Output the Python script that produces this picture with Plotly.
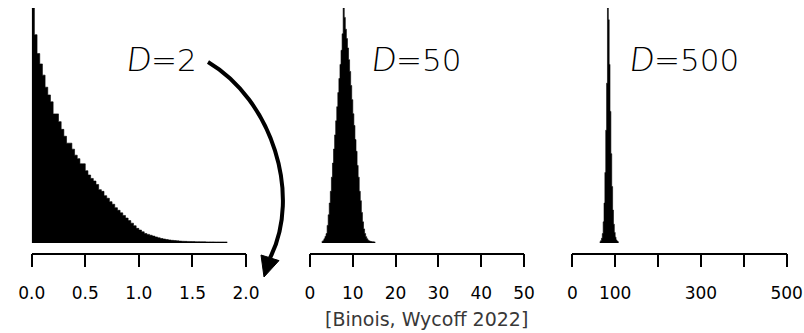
import plotly.graph_objects as go

W, H = 804, 333

# ---------------- data ----------------
# D = 2 : histogram, bin width 0.025 starting at 0
d2_start, d2_width = 0.0, 0.025
d2_vals = [2.73, 2.42, 2.20, 2.08, 1.95, 1.81, 1.72, 1.64, 1.50, 1.50, 1.41, 1.32, 1.24, 1.16, 1.16, 1.09,
           1.02, 0.98, 0.92, 0.92, 0.84, 0.79, 0.75, 0.72, 0.68, 0.62, 0.60, 0.55, 0.52, 0.48, 0.45, 0.41,
           0.38, 0.35, 0.32, 0.29, 0.26, 0.23, 0.20, 0.17, 0.15, 0.13, 0.11, 0.10, 0.090, 0.080, 0.070,
           0.060, 0.052, 0.046, 0.040, 0.035, 0.031, 0.028, 0.025, 0.022, 0.020, 0.019, 0.018, 0.017,
           0.016, 0.015, 0.015, 0.014, 0.014, 0.013, 0.013, 0.013, 0.012, 0.012, 0.012, 0.012, 0.012]

# D = 50 : histogram, bin width 0.25 starting at 2.75
d50_start, d50_width = 2.75, 0.25
d50_vals = [0.006, 0.010, 0.018, 0.028, 0.040, 0.075, 0.12, 0.17, 0.22, 0.28, 0.34, 0.40, 0.46, 0.52,
            0.58, 0.64, 0.70, 0.76, 0.82, 0.89, 1.00, 0.96, 0.91, 0.87, 0.83, 0.78, 0.73, 0.67, 0.61,
            0.55, 0.50, 0.44, 0.39, 0.33, 0.28, 0.22, 0.18, 0.13, 0.09, 0.06, 0.040, 0.027, 0.018,
            0.012, 0.009, 0.007, 0.006, 0.005, 0.005, 0.004]

# D = 500 : histogram, bin width 2 starting at 64
d500_start, d500_width = 64.0, 2.0
d500_vals = [0.005, 0.010, 0.020, 0.040, 0.090, 0.17, 0.30, 0.48, 0.68, 1.00, 0.95, 0.76, 0.56, 0.38,
             0.24, 0.14, 0.080, 0.045, 0.025, 0.013, 0.008, 0.005]

panel_values = ["2", "50", "500"]
ticks1 = [0.0, 0.5, 1.0, 1.5, 2.0]
ticktext1 = ["0.0", "0.5", "1.0", "1.5", "2.0"]
ticks2 = [0, 10, 20, 30, 40, 50]
ticktext2 = ["0", "10", "20", "30", "40", "50"]
ticks3 = [0, 100, 200, 300, 400, 500]
ticktext3 = ["0", "100", "", "300", "", "500"]
citation = "[Binois, Wycoff 2022]"


def px(x):
    return x / W


def py(y):
    return 1 - y / H


def step_xy(start, width, vals):
    xs = [start + i * width for i in range(len(vals) + 1)]
    ys = list(vals) + [vals[-1]]
    return xs, ys


fig = go.Figure()
for i, (s, w, v) in enumerate([(d2_start, d2_width, d2_vals),
                               (d50_start, d50_width, d50_vals),
                               (d500_start, d500_width, d500_vals)]):
    xs, ys = step_xy(s, w, v)
    suffix = "" if i == 0 else str(i + 1)
    fig.add_trace(go.Scatter(x=xs, y=ys, mode="lines", line_shape="hv",
                             line=dict(color="black", width=0.6),
                             fill="tozeroy", fillcolor="black",
                             xaxis="x" + suffix, yaxis="y" + suffix,
                             showlegend=False, hoverinfo="skip"))

ydom = [py(243), py(8)]
axis_pos = py(253.5)
xdoms = [[px(31.7), px(246)], [px(310), px(524)], [px(572.3), px(786.7)]]
xranges = [[0, 2], [0, 50], [0, 500]]
tvs = [(ticks1, ticktext1), (ticks2, ticktext2), (ticks3, ticktext3)]
ymax = [max(d2_vals), max(d50_vals), max(d500_vals)]

layout = dict(width=W, height=H, autosize=False,
              margin=dict(l=0, r=0, t=0, b=0, pad=0, autoexpand=False),
              paper_bgcolor="white", plot_bgcolor="white", showlegend=False)
for i in range(3):
    suffix = "" if i == 0 else str(i + 1)
    layout["xaxis" + suffix] = dict(
        domain=xdoms[i], range=xranges[i], anchor="free", position=axis_pos,
        showline=True, linecolor="black", linewidth=1.6, mirror=False,
        ticks="outside", ticklen=13, tickwidth=1.6, tickcolor="black",
        tickvals=tvs[i][0], ticktext=tvs[i][1], ticklabelstandoff=11,
        tickfont=dict(family="DejaVu Sans", size=17, color="#000"),
        showgrid=False, zeroline=False, fixedrange=True, automargin=False)
    layout["yaxis" + suffix] = dict(
        domain=ydom, range=[0, ymax[i]], anchor="x" + suffix, visible=False,
        showgrid=False, zeroline=False, fixedrange=True)
fig.update_layout(**layout)

title_x = [161.5, 416, 684.5]
for i in range(3):
    txt = ("<span style='font-family:Lato;font-weight:300;font-size:34px'><i>D</i></span>"
           "=" + panel_values[i])
    fig.add_annotation(x=px(title_x[i]), y=py(58), xref="paper", yref="paper",
                       text=txt, showarrow=False, xanchor="center", yanchor="middle",
                       font=dict(family="DejaVu Sans", size=31, color="black", weight=200))

fig.add_annotation(x=px(426), y=py(318.5), xref="paper", yref="paper", text=citation,
                   showarrow=False, xanchor="center", yanchor="middle",
                   font=dict(family="DejaVu Sans", size=19, color="#383838"))

# curved arrow
p0, c1, c2, p3 = (208, 62), (272, 100), (302, 195), (270, 258)
path = "M {} {} C {} {}, {} {}, {} {}".format(px(p0[0]), py(p0[1]), px(c1[0]), py(c1[1]),
                                              px(c2[0]), py(c2[1]), px(p3[0]), py(p3[1]))
fig.add_shape(type="path", path=path, xref="paper", yref="paper",
              line=dict(color="black", width=4))
tip, a, b = (264, 277), (279, 260.6), (261, 255)
head = "M {} {} L {} {} L {} {} Z".format(px(tip[0]), py(tip[1]), px(a[0]), py(a[1]),
                                           px(b[0]), py(b[1]))
fig.add_shape(type="path", path=head, xref="paper", yref="paper",
              line=dict(color="black", width=1), fillcolor="black")

fig.write_html("out.html", config={"responsive": False, "displayModeBar": False},
               post_script="document.body.style.margin='0px';document.body.style.overflow='hidden';")
